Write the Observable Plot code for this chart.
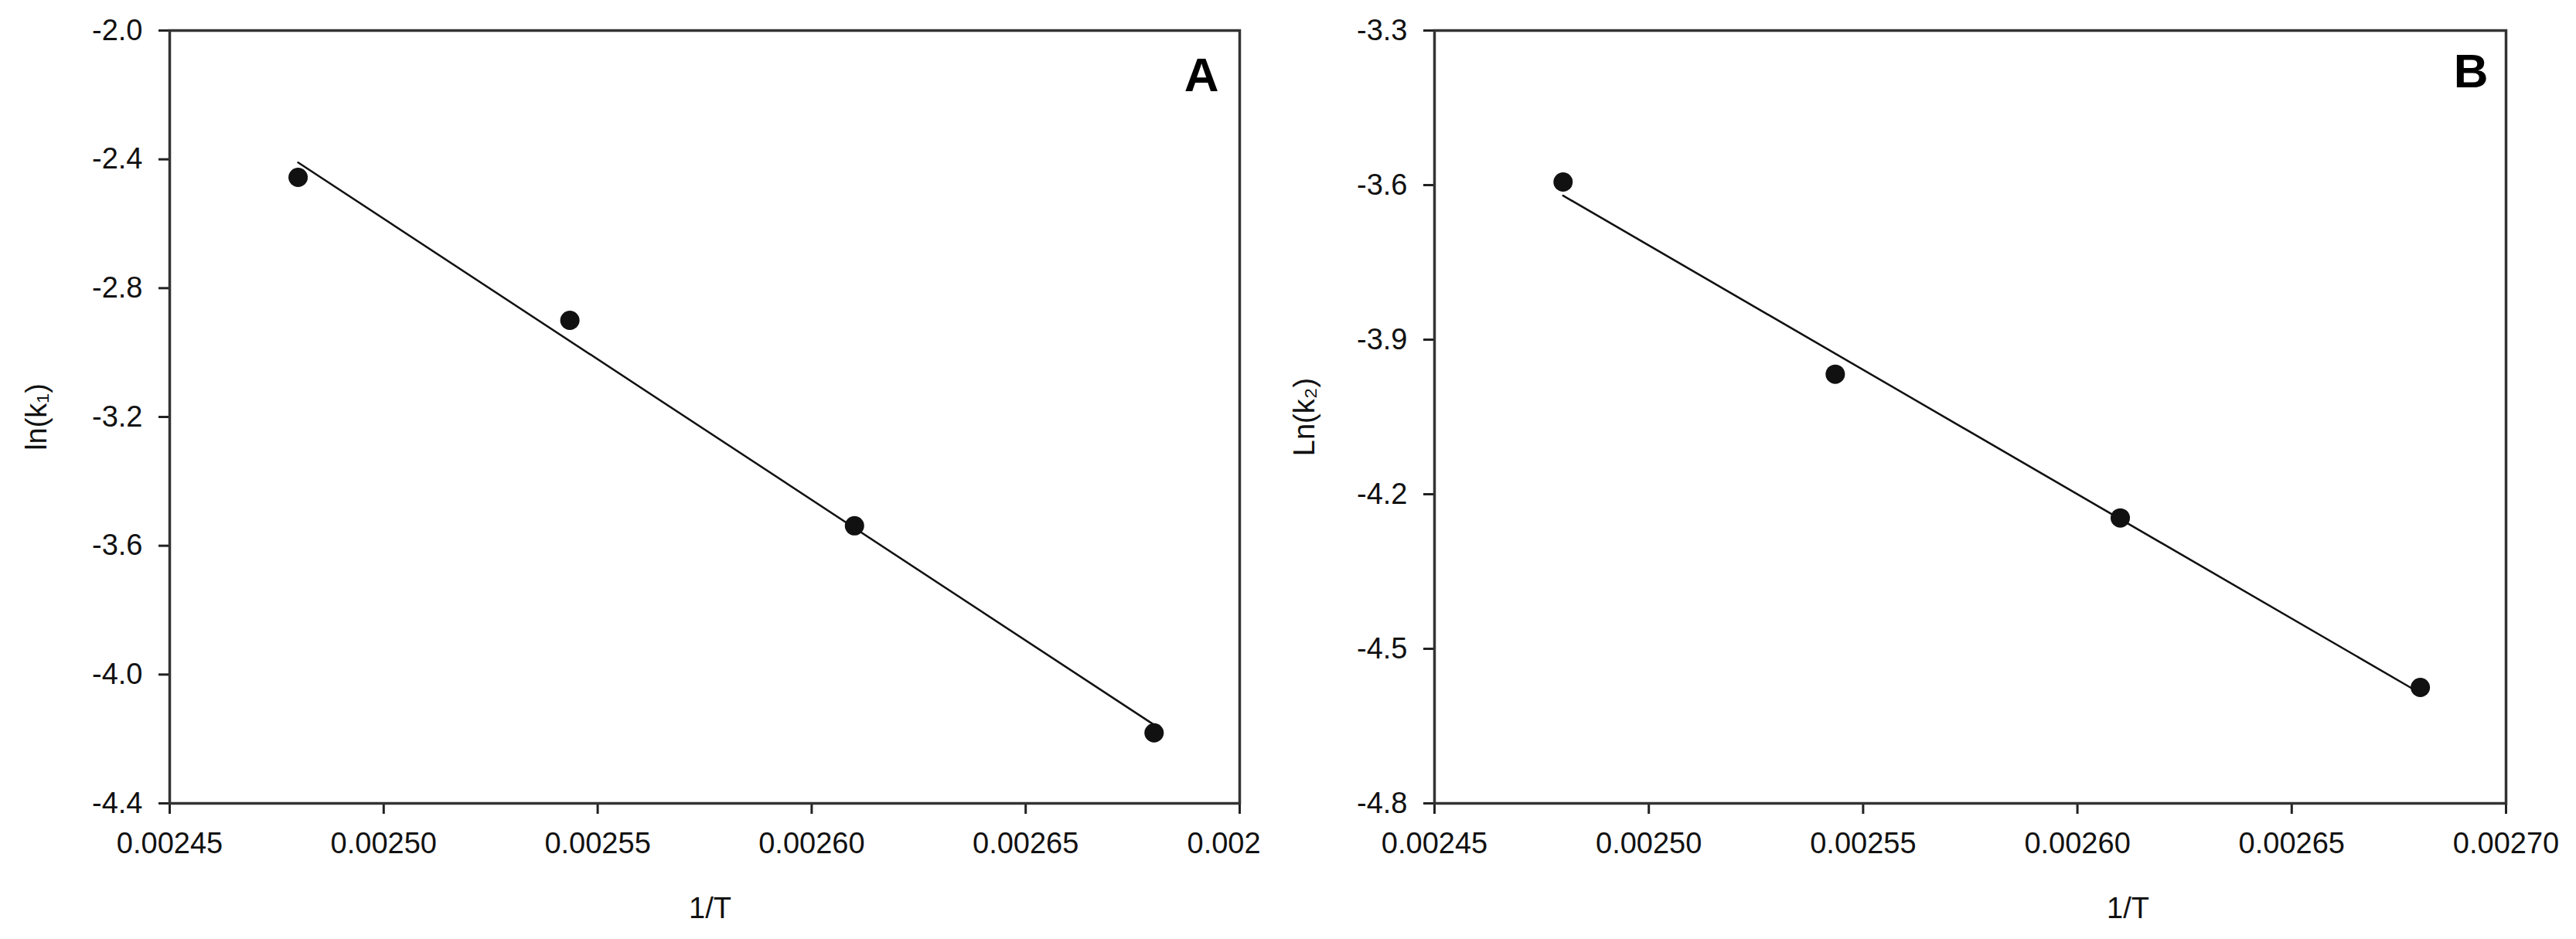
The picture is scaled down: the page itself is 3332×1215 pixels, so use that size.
<!DOCTYPE html>
<html>
<head>
<meta charset="utf-8">
<script src="https://cdn.jsdelivr.net/npm/d3@7"></script>
<script src="https://cdn.jsdelivr.net/npm/@observablehq/plot@0.6"></script>
<style>
  html, body { margin: 0; padding: 0; background: #fff; }
  #wrap { display: flex; width: 3332px; height: 1215px; }
  svg { font-family: "Liberation Sans", Arial, sans-serif; }
</style>
</head>
<body>
<div id="wrap"></div>
<script>
// 1/T values (x) and ln(k) values (y)
const invT = [0.00248, 0.0025435, 0.00261, 0.00268];
const lnK1 = [-2.456, -2.900, -3.538, -4.181];
const lnK2 = [-3.594, -3.967, -4.246, -4.575];
const xTicks = [0.00245, 0.00250, 0.00255, 0.00260, 0.00265, 0.00270];
const yTicksA = [-2.0, -2.4, -2.8, -3.2, -3.6, -4.0, -4.4];
const yTicksB = [-3.3, -3.6, -3.9, -4.2, -4.5, -4.8];
const panelLabels = ["A", "B"];
const yTitles = ["ln(k\u2081)", "Ln(k\u2082)"];
const xTitle = "1/T";
const truncatedTick = {x: 0.00270, label: "0.002"}; // last tick label in A is clipped in the original

const ink = "#111";
const FS = 38;

function panel(opts) {
  const data = invT.map((x, i) => ({x, y: opts.ys[i]}));
  const extra = opts.truncated ? [
    Plot.text([truncatedTick], {
      x: "x", text: "label", frameAnchor: "bottom",
      dx: -68, dy: 38, textAnchor: "start", lineAnchor: "top",
      fontSize: FS, fill: ink
    })
  ] : [];
  return Plot.plot({
    width: 1666,
    height: 1215,
    marginLeft: opts.ml,
    marginRight: opts.mr,
    marginTop: 39,
    marginBottom: 176,
    style: {background: "#fff", color: ink, fontFamily: '"Liberation Sans", Arial, sans-serif'},
    x: {domain: [0.00245, 0.00270]},
    y: {domain: opts.yDomain},
    marks: [
      Plot.axisX({
        ticks: xTicks,
        tickFormat: opts.xFmt,
        tickSize: 14,
        tickPadding: 24,
        fontSize: FS,
        strokeWidth: 3,
        stroke: "#222",
        label: null
      }),
      ...extra,
      Plot.axisY({
        ticks: opts.yTicks,
        tickFormat: d => d.toFixed(1),
        tickSize: 14,
        tickPadding: 21,
        fontSize: FS,
        strokeWidth: 3,
        stroke: "#222",
        label: null
      }),
      Plot.frame({stroke: "#333", strokeWidth: 3.5}),
      Plot.linearRegressionY(data, {x: "x", y: "y", ci: 0, stroke: "#111", strokeWidth: 2.5}),
      Plot.dot(data, {x: "x", y: "y", r: 12.5, fill: "#111", stroke: "none"}),
      Plot.text([opts.label], {
        frameAnchor: "top-right", dx: opts.labelDx, dy: opts.labelDy,
        textAnchor: "end", lineAnchor: "top",
        fontSize: 62, fontWeight: "bold", fill: "#000"
      }),
      Plot.text([opts.yTitle], {
        frameAnchor: "left", dx: opts.yTitleDx, rotate: -90,
        textAnchor: "middle", lineAnchor: "middle",
        fontSize: FS, fill: ink
      }),
      Plot.text([xTitle], {
        frameAnchor: "bottom", dx: opts.xTitleDx, dy: 136,
        textAnchor: "middle", lineAnchor: "middle",
        fontSize: FS, fill: ink
      })
    ]
  });
}

const fmtA = d => Math.abs(d - 0.0027) < 1e-9 ? "" : d.toFixed(5);
const fmtB = d => d.toFixed(5);

const wrap = document.getElementById("wrap");
wrap.append(panel({
  ys: lnK1, yDomain: [-4.4, -2.0], yTicks: yTicksA, ml: 219, mr: 63,
  xFmt: fmtA, truncated: true, label: panelLabels[0], labelDx: -27, labelDy: 34,
  yTitle: yTitles[0], yTitleDx: -172, xTitleDx: 7
}));
wrap.append(panel({
  ys: lnK2, yDomain: [-4.8, -3.3], yTicks: yTicksB, ml: 189, mr: 91,
  xFmt: fmtB, truncated: false, label: panelLabels[1], labelDx: -23, labelDy: 29,
  yTitle: yTitles[1], yTitleDx: -168, xTitleDx: 204
}));
</script>
</body>
</html>
